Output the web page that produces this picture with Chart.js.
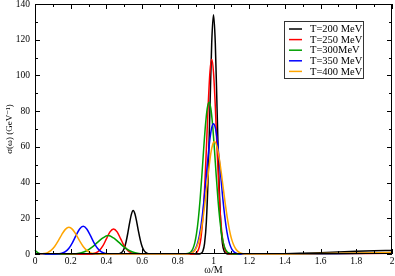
<!DOCTYPE html>
<html><head><meta charset="utf-8">
<script src="https://cdn.jsdelivr.net/npm/chart.js@4/dist/chart.umd.min.js"></script>
<style>html,body{margin:0;padding:0;background:#fff;overflow:hidden;}</style>
</head><body><canvas id="c" width="395" height="276"></canvas>
<script>
// ---- data ----
const seriesLabels = ['T=200 MeV', 'T=250 MeV', 'T=300MeV', 'T=350 MeV', 'T=400 MeV'];
const seriesColors = ['#000000', '#ff0000', '#00a000', '#0000ff', '#ffa500'];

const xTicks = [0, 0.2, 0.4, 0.6, 0.8, 1, 1.2, 1.4, 1.6, 1.8, 2];
const yTicks = [0, 20, 40, 60, 80, 100, 120, 140];

const x200 = [0, 0.40, 0.46, 0.47, 0.48, 0.49, 0.50, 0.51, 0.52, 0.53, 0.54, 0.55, 0.56, 0.57, 0.58, 0.59, 0.60, 0.61, 0.62, 0.63, 0.64, 0.66, 0.80, 0.92,
  0.93, 0.94, 0.95, 0.96, 0.97, 0.98, 0.99, 1.00, 1.01, 1.02, 1.03, 1.04, 1.05, 1.06, 1.07, 1.08, 1.20, 1.30, 1.40, 1.50, 1.60, 1.70, 1.80, 1.90, 2.00];
const y200 = [0, 0, 0, 0.15, 0.5, 1.3, 3.2, 6.7, 11.7, 17.4, 22.2, 24.3, 22.4, 17.9, 12.5, 7.8, 4.2, 2.0, 0.9, 0.35, 0.1, 0, 0, 0,
  0.3, 1.5, 5.9, 18.1, 43.6, 81.3, 118.3, 134, 118.3, 81.3, 43.6, 18.1, 5.9, 1.5, 0.3, 0, 0, 0.05, 0.15, 0.4, 0.7, 1.1, 1.5, 1.8, 2.0];

const x250 = [0, 0.30, 0.32, 0.34, 0.36, 0.38, 0.40, 0.42, 0.44, 0.46, 0.48, 0.50, 0.52, 0.54, 0.56, 0.58, 0.80,
  0.88, 0.89, 0.90, 0.91, 0.92, 0.93, 0.94, 0.95, 0.96, 0.97, 0.98, 0.99, 1.00, 1.01, 1.02, 1.03, 1.04, 1.05, 1.06, 1.07, 1.08, 1.09, 1.10,
  1.30, 1.60, 2.00];
const y250 = [0, 0, 0.15, 0.6, 1.9, 4.5, 8.5, 12.4, 14, 12.4, 8.5, 4.5, 1.9, 0.6, 0.15, 0, 0,
  0, 0.1, 0.4, 1.35, 3.8, 9.2, 19.6, 36.4, 58.8, 82.9, 101.8, 109, 101.8, 82.9, 58.8, 36.4, 19.6, 9.2, 3.8, 1.35, 0.4, 0.1, 0,
  0, 0.1, 0.4];

const x300 = [0, 0.01, 0.02, 0.03, 0.05, 0.20, 0.23, 0.26, 0.29, 0.32, 0.35, 0.38, 0.41, 0.44, 0.47, 0.50, 0.53, 0.56, 0.59, 0.62, 0.66, 0.80, 0.83,
  0.845, 0.855, 0.865, 0.875, 0.885, 0.895, 0.905, 0.915, 0.925, 0.935, 0.945, 0.955, 0.965, 0.975, 0.985, 0.995, 1.005, 1.015, 1.025, 1.035,
  1.045, 1.055, 1.065, 1.075, 1.085, 1.095, 1.105, 1.12, 1.30, 1.60, 2.00];
const y300 = [2.2, 1.2, 0.5, 0.15, 0, 0.1, 0.2, 0.7, 1.8, 3.8, 6.5, 9.0, 10.3, 9.0, 6.5, 3.8, 1.8, 0.7, 0.2, 0.1, 0, 0, 0,
  0.1, 0.25, 0.6, 1.4, 3.1, 6.2, 11.5, 19.6, 30.6, 44.2, 58.9, 72.2, 81.6, 85, 81.6, 72.2, 58.9, 44.2, 30.6, 19.6,
  11.5, 6.2, 3.1, 1.4, 0.6, 0.25, 0.1, 0, 0, 0.2, 0.6];

const x350 = [0, 0.12, 0.13, 0.15, 0.17, 0.19, 0.21, 0.23, 0.25, 0.27, 0.29, 0.31, 0.33, 0.35, 0.37, 0.39, 0.41, 0.43, 0.80, 0.84,
  0.86, 0.87, 0.88, 0.89, 0.90, 0.91, 0.92, 0.93, 0.94, 0.95, 0.96, 0.97, 0.98, 0.99, 1.00, 1.01, 1.02, 1.03, 1.04, 1.05, 1.06, 1.07,
  1.08, 1.09, 1.10, 1.11, 1.12, 1.13, 1.14, 1.16, 1.30, 1.60, 2.00];
const y350 = [0, 0, 0.1, 0.4, 1.3, 3.2, 6.4, 10.4, 14.0, 15.5, 14.0, 10.4, 6.4, 3.2, 1.3, 0.4, 0.1, 0, 0, 0,
  0.15, 0.35, 0.8, 1.7, 3.2, 5.8, 9.9, 15.8, 23.7, 33.4, 44.3, 55.1, 64.4, 70.8, 73, 70.8, 64.4, 55.1, 44.3, 33.4, 23.7, 15.8,
  9.9, 5.8, 3.2, 1.7, 0.8, 0.35, 0.15, 0, 0, 0.2, 0.5];

const x400 = [0, 0.03, 0.05, 0.07, 0.09, 0.11, 0.13, 0.15, 0.17, 0.19, 0.21, 0.23, 0.25, 0.27, 0.29, 0.31, 0.33, 0.35, 0.38, 0.80, 0.845,
  0.865, 0.875, 0.885, 0.895, 0.905, 0.915, 0.925, 0.935, 0.945, 0.955, 0.965, 0.975, 0.985, 0.995, 1.005,
  1.015, 1.025, 1.035, 1.045, 1.055, 1.065, 1.075, 1.085, 1.095, 1.105, 1.115, 1.125, 1.135, 1.145, 1.155, 1.165, 1.185,
  1.40, 1.60, 1.80, 2.00];
const y400 = [0, 0.1, 0.3, 0.8, 2.0, 4.2, 7.3, 10.9, 13.8, 15, 13.8, 10.9, 7.3, 4.2, 2.0, 0.8, 0.3, 0.1, 0, 0, 0,
  0.2, 0.5, 1.1, 2.0, 3.7, 6.3, 10.3, 15.7, 22.7, 31.0, 40.0, 48.8, 56.3, 61.2, 63,
  61.6, 57.8, 51.8, 44.5, 36.6, 28.8, 21.8, 15.7, 10.8, 7.2, 4.6, 2.8, 1.6, 0.9, 0.45, 0.2, 0,
  0.05, 0.3, 0.5, 0.8];

const seriesX = [x200, x250, x300, x350, x400];
const seriesY = [y200, y250, y300, y350, y400];

// ---- chart ----
const SERIF = '"Liberation Serif", "DejaVu Serif", serif';

const datasets = seriesLabels.map((lab, i) => ({
  label: lab,
  data: seriesX[i].map((x, k) => ({x: x, y: seriesY[i][k]})),
  borderColor: seriesColors[i],
  backgroundColor: seriesColors[i],
  borderWidth: 1.5,
  pointRadius: 0,
  fill: false,
  cubicInterpolationMode: 'monotone',
  clip: false,
  order: seriesLabels.length - i
}));

const framePlugin = {
  id: 'frame',
  afterDatasetsDraw(chart) {
    const ctx = chart.ctx, a = chart.chartArea, xs = chart.scales.x, ys = chart.scales.y;
    ctx.save();
    ctx.strokeStyle = '#000';
    ctx.lineWidth = 1;
    ctx.beginPath();
    ctx.rect(a.left + 0.5, a.top + 0.5, a.right - a.left - 1, a.bottom - a.top - 1);
    const major = 5, minor = 3;
    const xv = xs.ticks.map(t => t.value), yv = ys.ticks.map(t => t.value);
    const tickX = (v, len) => {
      const p = Math.round(xs.getPixelForValue(v)) + 0.5;
      ctx.moveTo(p, a.bottom); ctx.lineTo(p, a.bottom - len);
      ctx.moveTo(p, a.top); ctx.lineTo(p, a.top + len);
    };
    const tickY = (v, len) => {
      const p = Math.round(ys.getPixelForValue(v)) + 0.5;
      ctx.moveTo(a.left, p); ctx.lineTo(a.left + len, p);
      ctx.moveTo(a.right, p); ctx.lineTo(a.right - len, p);
    };
    xv.forEach((v, i) => { tickX(v, major); if (i < xv.length - 1) tickX((v + xv[i + 1]) / 2, minor); });
    yv.forEach((v, i) => { tickY(v, major); if (i < yv.length - 1) tickY((v + yv[i + 1]) / 2, minor); });
    ctx.stroke();

    // legend box
    const bx = a.right - 108, by = a.top + 17, bw = 79, bh = 57;
    ctx.fillStyle = '#fff';
    ctx.fillRect(bx, by, bw, bh);
    ctx.strokeStyle = '#333';
    ctx.strokeRect(bx + 0.5, by + 0.5, bw, bh);
    ctx.font = '10.5px ' + SERIF;
    ctx.textBaseline = 'middle';
    ctx.textAlign = 'left';
    chart.data.datasets.forEach((ds, i) => {
      const ry = by + 8 + i * 10.6;
      ctx.strokeStyle = ds.borderColor;
      ctx.lineWidth = 1.5;
      ctx.beginPath();
      ctx.moveTo(bx + 5, ry); ctx.lineTo(bx + 18, ry);
      ctx.stroke();
      ctx.fillStyle = '#000';
      ctx.fillText(ds.label, bx + 26, ry + 0.5);
    });
    ctx.restore();
  }
};

new Chart(document.getElementById('c'), {
  type: 'line',
  data: {datasets: datasets},
  options: {
    responsive: false,
    devicePixelRatio: 1,
    animation: false,
    events: [],
    layout: {padding: {top: 4, right: 3, left: 0, bottom: 0}},
    plugins: {legend: {display: false}, tooltip: {enabled: false}},
    scales: {
      x: {
        type: 'linear', min: 0, max: 2,
        afterBuildTicks: s => { s.ticks = xTicks.map(v => ({value: v})); },
        afterFit: s => { s.height = 22; s.paddingLeft = 0; s.paddingRight = 0; },
        grid: {display: false, drawTicks: false},
        border: {display: false},
        ticks: {
          color: '#000', padding: 2, maxRotation: 0, autoSkip: false,
          font: {family: SERIF, size: 9.5},
          callback: v => String(Math.round(v * 10) / 10)
        },
        title: {display: true, text: 'ω/M', color: '#000', font: {family: SERIF, size: 10}, padding: {top: 0, bottom: 0}}
      },
      y: {
        type: 'linear', min: 0, max: 140,
        afterBuildTicks: s => { s.ticks = yTicks.map(v => ({value: v})); },
        afterFit: s => { s.width = 35; s.paddingTop = 0; s.paddingBottom = 0; },
        grid: {display: false, drawTicks: false},
        border: {display: false},
        ticks: {
          color: '#000', padding: 5, autoSkip: false,
          font: {family: SERIF, size: 9.5},
          callback: v => String(v)
        },
        title: {display: true, text: 'σ(ω) (GeV⁻¹)', color: '#000', font: {family: SERIF, size: 9}, padding: {top: 4, bottom: 0}}
      }
    }
  },
  plugins: [framePlugin]
});
</script></body></html>
